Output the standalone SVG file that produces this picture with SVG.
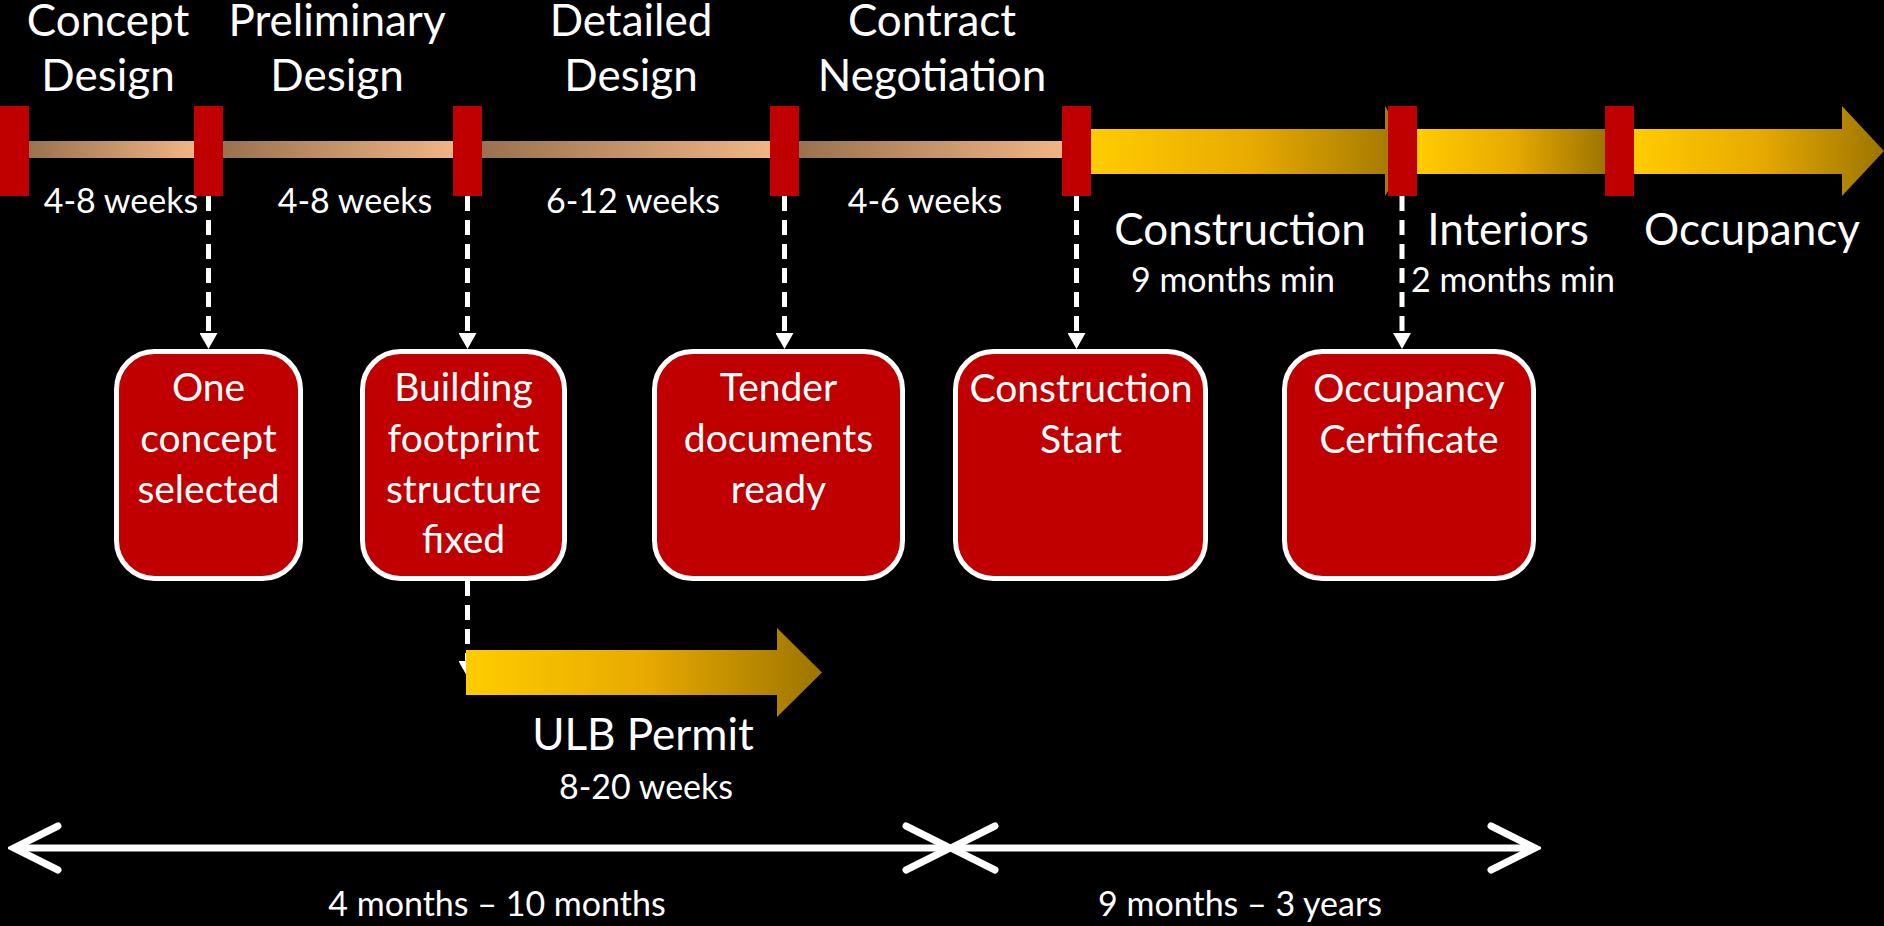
<svg xmlns="http://www.w3.org/2000/svg" width="1884" height="926" viewBox="0 0 1884 926">
  <style>
    text { font-family: Lato, "Open Sans", "Liberation Sans", sans-serif; fill: #ffffff; text-anchor: middle; }
    .phase { font-size: 44px; }
    .dur { font-size: 34px; }
    .box-text { font-size: 39px; }
    .stage { fill: #c00000; }
    .tan { fill: url(#tanGrad); }
    .box { fill: #c00000; stroke: #ffffff; stroke-width: 5; }
    .dash { stroke: #ffffff; stroke-width: 5; stroke-dasharray: 15 9; fill: none; marker-end: url(#tip); }
    .span { stroke: #ffffff; stroke-width: 7; fill: none; marker-start: url(#chev); marker-end: url(#chev); }
  </style>
  <defs>
    <linearGradient id="tanGrad" x1="0" y1="0" x2="1" y2="0">
      <stop offset="0" stop-color="#9a7250"/>
      <stop offset="1" stop-color="#f0b584"/>
    </linearGradient>
    <linearGradient id="goldGrad" x1="0" y1="0" x2="1" y2="0">
      <stop offset="0" stop-color="#ffcc00"/>
      <stop offset="0.5" stop-color="#e8aa00"/>
      <stop offset="1" stop-color="#9c7400"/>
    </linearGradient>
    <marker id="tip" viewBox="0 0 16 18" markerWidth="16" markerHeight="18" refX="0" refY="9" orient="auto" markerUnits="userSpaceOnUse">
      <path d="M0,0 L16,9 L0,18 Z" fill="#ffffff"/>
    </marker>
    <marker id="chev" viewBox="-50 -26 56 52" markerWidth="56" markerHeight="52" refX="0" refY="0" orient="auto-start-reverse" markerUnits="userSpaceOnUse">
      <path d="M-44,-22 L0,0 L-44,22" fill="none" stroke="#ffffff" stroke-width="7" stroke-linecap="round" stroke-linejoin="miter"/>
    </marker>
  </defs>
  <rect width="1884" height="926" fill="#000000"/>

  <!-- design-phase bars -->
  <g id="timeline-design">
    <rect class="tan" x="29" y="141" width="165" height="17"/>
    <rect class="tan" x="223" y="141" width="230" height="17"/>
    <rect class="tan" x="482" y="141" width="288" height="17"/>
    <rect class="tan" x="799" y="141" width="263" height="17"/>
  </g>

  <!-- build-phase arrows -->
  <g id="timeline-build">
    <polygon fill="url(#goldGrad)" points="1091,129 1385,129 1385,106 1412,151 1385,196 1385,174 1091,174"/>
    <rect fill="url(#goldGrad)" x="1417" y="129" width="190" height="45"/>
    <polygon fill="url(#goldGrad)" points="1634,129 1842,129 1842,106 1884,151 1842,196 1842,174 1634,174"/>
  </g>

  <!-- connectors -->
  <g id="connectors">
    <line class="dash" x1="208.5" y1="196" x2="208.5" y2="333"/>
    <line class="dash" x1="467.5" y1="196" x2="467.5" y2="333"/>
    <line class="dash" x1="784.5" y1="196" x2="784.5" y2="333"/>
    <line class="dash" x1="1076.5" y1="196" x2="1076.5" y2="333"/>
    <line class="dash" x1="1402" y1="196" x2="1402" y2="333"/>
    <line class="dash" x1="467.5" y1="581" x2="467.5" y2="661"/>
    <line class="span" x1="14" y1="848" x2="950" y2="848"/>
    <line class="span" x1="951" y1="848" x2="1535" y2="848"/>
  </g>

  <!-- stage markers -->
  <g id="markers">
    <rect class="stage" x="0" y="106" width="29" height="90"/>
    <rect class="stage" x="194" y="106" width="29" height="90"/>
    <rect class="stage" x="453" y="106" width="29" height="90"/>
    <rect class="stage" x="770" y="106" width="29" height="90"/>
    <rect class="stage" x="1062" y="106" width="29" height="90"/>
    <rect class="stage" x="1388" y="106" width="29" height="90"/>
    <rect class="stage" x="1605" y="106" width="29" height="90"/>
  </g>

  <!-- phase names and durations -->
  <g id="phase-labels">
    <text class="phase" x="108" y="36">Concept</text>
    <text class="phase" x="108" y="91">Design</text>
    <text class="phase" x="337" y="36">Preliminary</text>
    <text class="phase" x="337" y="91">Design</text>
    <text class="phase" x="631" y="36">Detailed</text>
    <text class="phase" x="631" y="91">Design</text>
    <text class="phase" x="932" y="36">Contract</text>
    <text class="phase" x="932" y="91">Negotiation</text>
    <text class="dur" x="121" y="213">4-8 weeks</text>
    <text class="dur" x="355" y="213">4-8 weeks</text>
    <text class="dur" x="633" y="213">6-12 weeks</text>
    <text class="dur" x="925" y="213">4-6 weeks</text>
    <text class="phase" x="1240" y="245">Construction</text>
    <text class="phase" x="1508" y="245">Interiors</text>
    <text class="phase" x="1752" y="245">Occupancy</text>
    <text class="dur" x="1233" y="292">9 months min</text>
    <text class="dur" x="1513" y="292">2 months min</text>
  </g>

  <!-- milestones -->
  <g id="milestone-concept">
    <rect class="box" x="116.5" y="351.5" width="184" height="227" rx="38"/>
    <text class="box-text" x="208.5" y="401">One</text>
    <text class="box-text" x="208.5" y="452">concept</text>
    <text class="box-text" x="208.5" y="503">selected</text>
  </g>
  <g id="milestone-footprint">
    <rect class="box" x="362.5" y="351.5" width="202" height="227" rx="38"/>
    <text class="box-text" x="463.5" y="401">Building</text>
    <text class="box-text" x="463.5" y="452">footprint</text>
    <text class="box-text" x="463.5" y="503">structure</text>
    <text class="box-text" x="463.5" y="553">fixed</text>
  </g>
  <g id="milestone-tender">
    <rect class="box" x="654.5" y="351.5" width="248" height="227" rx="38"/>
    <text class="box-text" x="778.5" y="401">Tender</text>
    <text class="box-text" x="778.5" y="452">documents</text>
    <text class="box-text" x="778.5" y="503">ready</text>
  </g>
  <g id="milestone-construction">
    <rect class="box" x="955.5" y="351.5" width="250" height="227" rx="38"/>
    <text class="box-text" x="1081" y="402">Construction</text>
    <text class="box-text" x="1081" y="453">Start</text>
  </g>
  <g id="milestone-occupancy">
    <rect class="box" x="1284.5" y="351.5" width="249" height="227" rx="38"/>
    <text class="box-text" x="1409" y="402">Occupancy</text>
    <text class="box-text" x="1409" y="453">Certificate</text>
  </g>

  <!-- permit track -->
  <g id="permit">
    <polygon fill="url(#goldGrad)" points="466,650 777,650 777,628 822,672.5 777,717 777,695 466,695"/>
    <text class="phase" x="643" y="750">ULB Permit</text>
    <text class="dur" x="646" y="799">8-20 weeks</text>
  </g>

  <!-- overall spans -->
  <g id="span-labels">
    <text class="dur" x="497" y="916">4 months – 10 months</text>
    <text class="dur" x="1240" y="916">9 months – 3 years</text>
  </g>
</svg>
